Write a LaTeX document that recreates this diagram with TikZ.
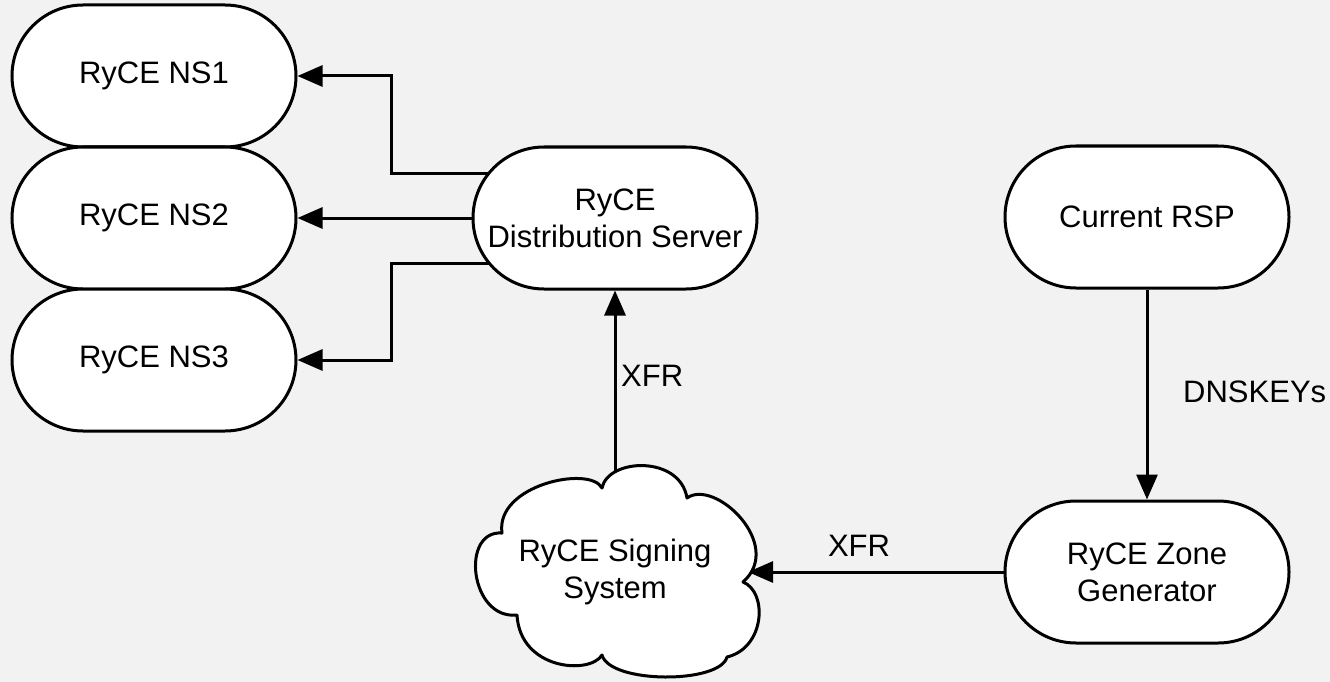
\documentclass[tikz,border=0pt]{standalone}
\usepackage{fontspec}
\setmainfont{Liberation Sans}
\usetikzlibrary{shapes.misc,arrows.meta,calc}
\pgfdeclarelayer{bg}
\pgfdeclarelayer{edges}
\pgfsetlayers{bg,edges,main}
\definecolor{bgcol}{HTML}{F2F2F2}
\begin{document}
\begin{tikzpicture}[x=1pt,y=-1pt,
  every node/.style={font=\fontsize{31}{37}\selectfont},
  pill/.style={rounded rectangle, draw=black, line width=3pt, fill=white,
    minimum width=284pt, minimum height=142pt, inner sep=0pt, align=center},
  cloudline/.style={draw=black, line width=3pt, fill=white, line join=round},
  arr/.style={line width=3pt, -{Triangle[length=25pt,width=21pt]}},
  lbl/.style={inner sep=0pt}]
\begin{pgfonlayer}{bg}
  \fill[bgcol] (0,0) rectangle (1330,682);
\end{pgfonlayer}
\useasboundingbox (0,0) rectangle (1330,682);

\node[pill] (ns1) at (154,76) {RyCE NS1};
\node[pill] (ns2) at (154,218) {RyCE NS2};
\node[pill] (ns3) at (154,360) {RyCE NS3};
\node[pill] (dist) at (615,218) {RyCE\\Distribution Server};
\node[pill] (rsp) at (1147,217) {Current RSP};
\node[pill] (zone) at (1147,572) {RyCE Zone\\Generator};

% cloud outline
\path[cloudline] (602,488)
  .. controls (608,458) and (680,455) .. (687,498)
  .. controls (715,478) and (785,545) .. (743,582)
  .. controls (768,592) and (765,648) .. (727,657)
  .. controls (720,684) and (610,684) .. (602,655)
  .. controls (590,675) and (520,670) .. (517,615)
  .. controls (470,620) and (460,530) .. (502,533)
  .. controls (495,485) and (590,465) .. (602,488) -- cycle;
\node[align=center, inner sep=0pt] (sign) at (615,572) {RyCE Signing\\System};
\coordinate (signin) at (748,572);

\node[lbl, anchor=west] (xfr1) at (621,376) {XFR};
\node[lbl] (xfr2) at (859,546) {XFR};
\node[lbl, anchor=west] (dnskeys) at (1183,392) {DNSKEYs};

\begin{pgfonlayer}{edges}
  \draw[arr] ($(dist.center)+(-60,-45)$) -| ([xshift=94pt]ns1.east) -- (ns1.east);
  \draw[arr] ([xshift=-60pt]dist.center) -- (ns2.east);
  \draw[arr] ($(dist.center)+(-60,45)$) -| ([xshift=94pt]ns3.east) -- (ns3.east);
  \draw[arr] (sign.center) -- (dist.south);
  \draw[arr] (rsp.south) -- (zone.north);
  \draw[arr] (zone.center) -- (signin);
\end{pgfonlayer}
\end{tikzpicture}
\end{document}
